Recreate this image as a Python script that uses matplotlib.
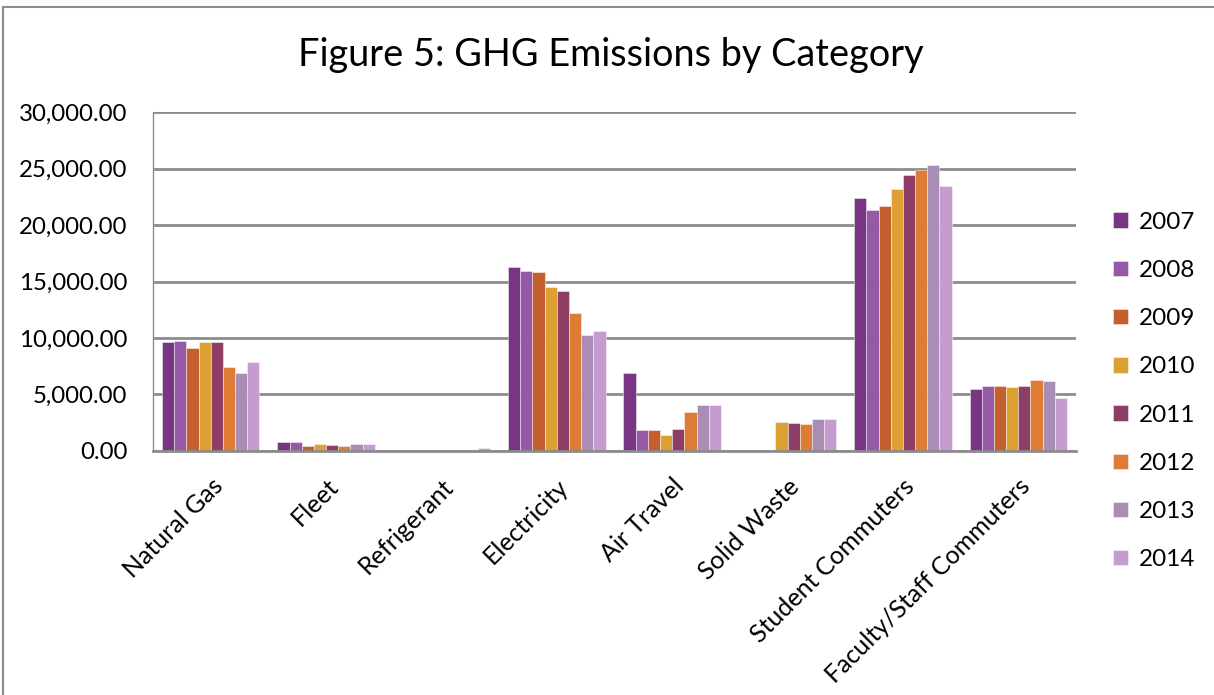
import matplotlib
matplotlib.use("Agg")
import matplotlib.pyplot as plt
from matplotlib.lines import Line2D
from matplotlib.ticker import FuncFormatter
import numpy as np

categories = ["Natural Gas", "Fleet", "Refrigerant", "Electricity", "Air Travel",
              "Solid Waste", "Student Commuters", "Faculty/Staff Commuters"]
years = ["2007", "2008", "2009", "2010", "2011", "2012", "2013", "2014"]

# emissions per category, one list per year
y2007 = [9610, 745, 0, 16260, 6860, 0, 22440, 5470]
y2008 = [9725, 745, 0, 15900, 1810, 0, 21320, 5765]
y2009 = [9130, 445, 0, 15870, 1810, 0, 21650, 5765]
y2010 = [9610, 620, 0, 14510, 1365, 2520, 23210, 5675]
y2011 = [9665, 505, 0, 14185, 1925, 2455, 24410, 5705]
y2012 = [7395, 445, 0, 12205, 3430, 2365, 24910, 6265]
y2013 = [6860, 565, 0, 10255, 4050, 2785, 25295, 6145]
y2014 = [7835, 600, 200, 10640, 4050, 2785, 23470, 4705]
series = [y2007, y2008, y2009, y2010, y2011, y2012, y2013, y2014]

colors = ["#783583", "#9659A6", "#C45F30", "#DDA032",
          "#8C3E64", "#DE7C36", "#AA8DB4", "#C59CCF"]

yticks = [0, 5000, 10000, 15000, 20000, 25000, 30000]

font = "Lato"
plt.rcParams["font.family"] = [font, "DejaVu Sans"]

fig = plt.figure(figsize=(12.14, 6.95), dpi=100)
ax = fig.add_axes([153 / 1214, 1 - 450.7 / 695, (1076 - 153) / 1214, (450.7 - 112.3) / 695])

x = np.arange(len(categories))
n = len(series)
group_w = 0.845
bw = group_w / n
for i, (vals, c, yr) in enumerate(zip(series, colors, years)):
    offs = -group_w / 2 + bw * (i + 0.5)
    ax.bar(x + offs, vals, width=bw, color=c, edgecolor=(1, 1, 1, 0.45),
           linewidth=0.7, label=yr, zorder=3)

ax.set_xlim(-0.5, len(categories) - 0.5)
ax.set_ylim(0, 30000)
ax.set_yticks(yticks)
ax.yaxis.set_major_formatter(FuncFormatter(lambda v, p: f"{v:,.2f}"))
ax.grid(axis="y", color="#8c8c8c", linewidth=2.0, zorder=0)
ax.set_axisbelow(True)

for s in ["top", "right"]:
    ax.spines[s].set_visible(False)
ax.spines["left"].set_color("#8c8c8c")
ax.spines["left"].set_linewidth(1.0)
ax.spines["bottom"].set_color("#8c8c8c")
ax.spines["bottom"].set_linewidth(2.0)
ax.spines["bottom"].set_zorder(4)

ax.tick_params(axis="both", length=0)
ax.tick_params(axis="y", pad=18.5, labelsize=17.3)
ax.set_xticks(x)
ax.set_xticklabels(categories, rotation=45, ha="right", va="top",
                   rotation_mode="anchor", fontsize=18)
ax.tick_params(axis="x", pad=17)

fig.text(0.503, 1 - 55 / 695, "Figure 5: GHG Emissions by Category",
         ha="center", va="center", fontsize=27.3)

ax.legend(loc="center left", bbox_to_anchor=(1113 / 1214, 1 - 391 / 695),
          bbox_transform=fig.transFigure, frameon=False, fontsize=17.5,
          handlelength=0.6, handleheight=0.6, handletextpad=0.45,
          labelspacing=1.12, borderaxespad=0, borderpad=0)

# outer chart border (left and top edges)
fig.add_artist(Line2D([3 / 1214, 3 / 1214], [0, 1 - 7 / 695],
                      transform=fig.transFigure, color="#8c8c8c", linewidth=1.5))
fig.add_artist(Line2D([3 / 1214, 1], [1 - 7 / 695, 1 - 7 / 695],
                      transform=fig.transFigure, color="#8c8c8c", linewidth=1.5))

fig.savefig("out.png", dpi=100, facecolor="white")
